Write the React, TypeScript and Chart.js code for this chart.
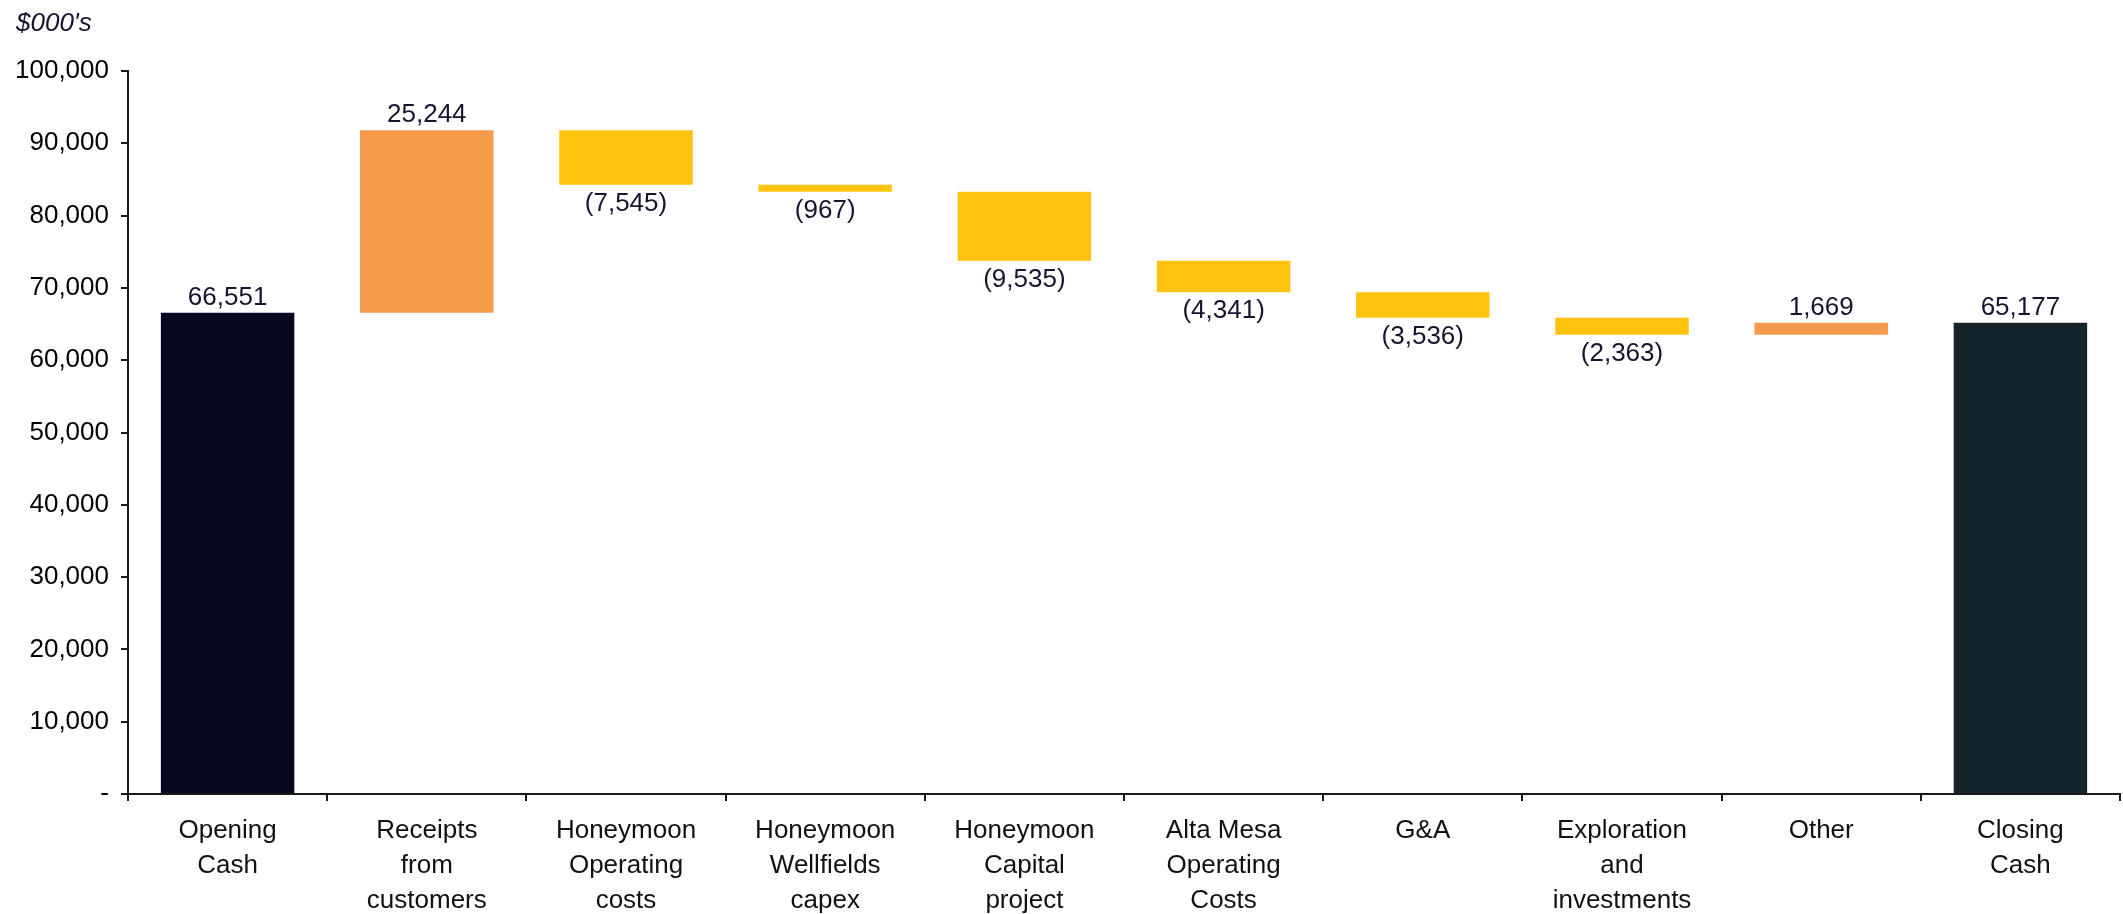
import React, { useEffect, useRef } from "react";
import { Chart, registerables } from "chart.js";

Chart.register(...registerables);

const categories: string[][] = [
  ["Opening", "Cash"],
  ["Receipts", "from", "customers"],
  ["Honeymoon", "Operating", "costs"],
  ["Honeymoon", "Wellfields", "capex"],
  ["Honeymoon", "Capital", "project"],
  ["Alta Mesa", "Operating", "Costs"],
  ["G&A"],
  ["Exploration", "and", "investments"],
  ["Other"],
  ["Closing", "Cash"],
];

const openingCash = 66551;
const movements = [25244, -7545, -967, -9535, -4341, -3536, -2363, 1669];
const closingCash = 65177;

const yTicks = [0, 10000, 20000, 30000, 40000, 50000, 60000, 70000, 80000, 90000, 100000];
const unitLabel = "$000's";

const COLOR_OPEN = "#07071f";
const COLOR_CLOSE = "#13242a";
const COLOR_POS = "#f39b4b";
const COLOR_NEG = "#ffc20e";
const LABEL_COLOR = "#15152e";
const FONT = "'Liberation Sans', Arial, sans-serif";

const fmt = (v: number) => Math.abs(v).toLocaleString("en-US");

export default function App() {
  const ref = useRef<HTMLCanvasElement | null>(null);

  useEffect(() => {
    if (!ref.current) return;

    const ranges: [number, number][] = [];
    const colors: string[] = [];
    const values: number[] = [];
    ranges.push([0, openingCash]);
    colors.push(COLOR_OPEN);
    values.push(openingCash);
    let run = openingCash;
    movements.forEach((m) => {
      const next = run + m;
      ranges.push([Math.min(run, next), Math.max(run, next)]);
      colors.push(m >= 0 ? COLOR_POS : COLOR_NEG);
      values.push(m);
      run = next;
    });
    ranges.push([0, closingCash]);
    colors.push(COLOR_CLOSE);
    values.push(closingCash);

    const labelPlugin = {
      id: "wfLabels",
      afterDatasetsDraw(chart: any) {
        const ctx = chart.ctx;
        const meta = chart.getDatasetMeta(0);
        const ys = chart.scales.y;
        ctx.save();
        ctx.font = `26px ${FONT}`;
        ctx.fillStyle = LABEL_COLOR;
        ctx.textAlign = "center";
        ctx.textBaseline = "alphabetic";
        meta.data.forEach((el: any, i: number) => {
          const v = values[i];
          const [lo, hi] = ranges[i];
          if (v >= 0) {
            const yTop = ys.getPixelForValue(hi);
            ctx.fillText(fmt(v), el.x, yTop - 8);
          } else {
            const yBot = ys.getPixelForValue(lo);
            ctx.fillText(`(${fmt(v)})`, el.x, yBot + 26);
          }
        });
        ctx.font = `italic 26px ${FONT}`;
        ctx.textAlign = "left";
        ctx.fillText(unitLabel, 16, 31);
        ctx.restore();
      },
    };

    const chart = new Chart(ref.current, {
      type: "bar",
      data: {
        labels: categories,
        datasets: [
          {
            data: ranges as any,
            backgroundColor: colors,
            borderWidth: 0,
            barPercentage: 0.67,
            categoryPercentage: 1,
          },
        ],
      },
      options: {
        animation: false,
        responsive: true,
        maintainAspectRatio: false,
        layout: { padding: { top: 71, right: 3, left: 0, bottom: 0 } },
        plugins: {
          legend: { display: false },
          tooltip: { enabled: false },
          title: { display: false },
        },
        scales: {
          x: {
            grid: {
              display: true,
              drawOnChartArea: false,
              drawTicks: true,
              tickLength: 7,
              color: "#1a1a1a",
              lineWidth: 2,
            },
            border: { display: true, color: "#1a1a1a", width: 2 },
            ticks: {
              color: "#111111",
              font: { family: FONT, size: 26, lineHeight: 1.35 },
              padding: 12,
              maxRotation: 0,
              autoSkip: false,
            },
            afterFit: (scale: any) => {
              scale.height = 120;
            },
          },
          y: {
            min: 0,
            max: 100000,
            afterBuildTicks: (scale: any) => {
              scale.ticks = yTicks.map((v) => ({ value: v }));
            },
            grid: {
              display: true,
              drawOnChartArea: false,
              drawTicks: true,
              tickLength: 7,
              color: "#1a1a1a",
              lineWidth: 2,
            },
            border: { display: true, color: "#1a1a1a", width: 2 },
            ticks: {
              color: "#000000",
              font: { family: FONT, size: 26 },
              padding: 12,
              callback: (v: any) => (Number(v) === 0 ? "-" : Number(v).toLocaleString("en-US")),
            },
            afterFit: (scale: any) => {
              scale.width = 128;
            },
          },
        },
      },
      plugins: [labelPlugin],
    });

    return () => chart.destroy();
  }, []);

  return (
    <div style={{ position: "fixed", left: 0, top: 0, width: "100vw", height: "100vh", background: "#fff" }}>
      <canvas ref={ref} />
    </div>
  );
}
